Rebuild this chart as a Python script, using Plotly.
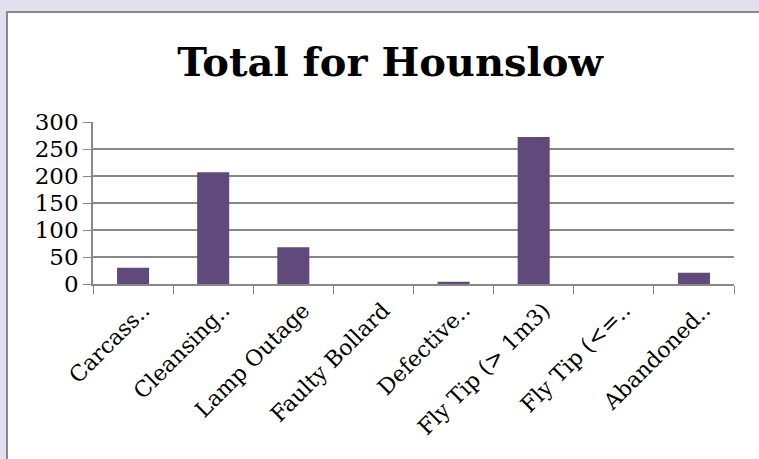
import plotly.graph_objects as go

categories = ["Carcass..", "Cleansing..", "Lamp Outage", "Faulty Bollard",
              "Defective..", "Fly Tip (> 1m3)", "Fly Tip (<=..", "Abandoned.."]
values = [30, 207, 68, 0, 4, 272, 0, 21]
y_ticks = [0, 50, 100, 150, 200, 250, 300]

W, H = 759, 459
L, R, T, B = 93, 25, 122, 175
pw, ph = W - L - R, H - T - B

def px_x(x):
    return (x - L) / pw

def px_y(y):
    return (H - B - y) / ph

fig = go.Figure()
fig.add_trace(go.Bar(x=categories, y=values, marker_color="#604A7B",
                     marker_line_width=0, width=0.4))

fig.add_shape(type="rect", xref="paper", yref="paper",
              x0=px_x(7), x1=px_x(W + 5), y0=px_y(12), y1=px_y(H + 5),
              fillcolor="white", line=dict(color="#8a8a8a", width=2),
              layer="below")

fig.update_layout(
    width=W, height=H,
    margin=dict(l=L, r=R, t=T, b=B),
    paper_bgcolor="#E4DFEC",
    plot_bgcolor="rgba(0,0,0,0)",
    showlegend=False,
    bargap=0.6,
    title=dict(text="<b>Total for Hounslow</b>", x=390 / W, xref="container",
               xanchor="center", y=1 - 62 / H, yref="container",
               yanchor="middle",
               font=dict(family="DejaVu Serif", size=40, color="black")),
    font=dict(family="DejaVu Serif", size=22, color="black"),
)
fig.update_xaxes(type="category", tickangle=-45, tickson="boundaries",
                 ticks="outside", ticklen=8, tickcolor="#888888",
                 showline=True, linecolor="#888888", linewidth=1.5,
                 showgrid=False, tickfont=dict(size=22),
                 ticklabelshift=10, ticklabelstandoff=3)
fig.update_yaxes(range=[0, 300], tickvals=y_ticks, ticks="outside", ticklen=8,
                 tickcolor="#888888", showline=True, linecolor="#888888",
                 linewidth=1.5, showgrid=True, gridcolor="#888888",
                 gridwidth=1.5, zeroline=False, tickfont=dict(size=23))

fig.write_html("out.html", config={"displayModeBar": False},
               post_script="document.body.style.margin='0';document.body.style.overflow='hidden';")
